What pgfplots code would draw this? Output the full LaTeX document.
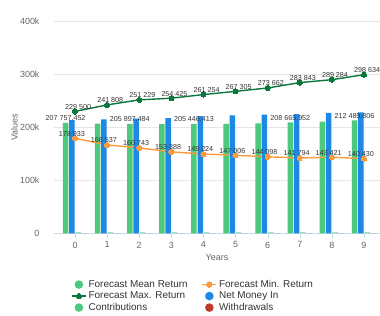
\documentclass[border=0pt]{standalone}
\usepackage{pgfplots}
\pgfplotsset{compat=1.18}
\usepackage{fontspec}
\setmainfont{Liberation Sans}
\definecolor{meangreen}{HTML}{4CC97C}
\definecolor{netblue}{HTML}{1E88E5}
\definecolor{maxgreen}{HTML}{08783C}
\definecolor{minorange}{HTML}{FF9A3C}
\definecolor{wdred}{HTML}{C0392B}
\definecolor{axisblue}{HTML}{CCD6EB}
\definecolor{gridgray}{HTML}{E6E6E6}
\definecolor{ticktext}{HTML}{666666}
\definecolor{labeltext}{HTML}{333333}
\begin{document}
\begin{tikzpicture}
\path[use as bounding box] (-54bp,-82.7bp) rectangle (326bp,233.3bp);
\begin{axis}[
  at={(0,0)}, anchor=south west,
  scale only axis, width=326bp, height=212.4bp,
  ybar=0.8bp, bar width=5.5bp,
  xmin=-0.654, xmax=9.5, ymin=0, ymax=400000,
  xtick={0,...,9},
  ytick={0,100000,200000,300000,400000},
  yticklabels={0,100k,200k,300k,400k},
  scaled y ticks=false,
  axis x line*=bottom, axis y line*=left,
  y axis line style={draw=none},
  x axis line style={draw=axisblue,-},
  tick align=outside, major tick length=5bp,
  xtick style={draw=axisblue},
  ytick style={draw=none},
  ymajorgrids, grid style={draw=gridgray},
  /pgf/number format/assume math mode=true,
  ticklabel style={font=\fontsize{9}{10}\selectfont, text=ticktext},
  yticklabel style={xshift=-6bp},
  xlabel={Years}, ylabel={Values},
  label style={font=\fontsize{9}{10}\selectfont, text=ticktext},
  xlabel style={at={(rel axis cs:0.5,0)}, anchor=center, yshift=-24.2bp},
  ylabel style={at={(rel axis cs:0,0.5)}, anchor=center, yshift=39.5bp},
  clip=false,
  legend columns=2,
  legend cell align=left,
  legend style={at={(0.0521,-0.2105)}, anchor=north west, draw=none, fill=none,
    font=\fontsize{10}{11}\selectfont, text=labeltext, inner sep=0pt,
    row sep=-1bp,
    /tikz/every even column/.append style={column sep=12bp}},
  every node near coord/.append style={font=\fontsize{7.2}{8}\selectfont, text=labeltext, anchor=south, inner sep=1bp, yshift=1bp},
]
% Forecast Mean Return
\addplot[fill=meangreen, draw=none, nodes near coords, point meta=explicit symbolic,
  legend image code/.code={\fill[meangreen] (7bp,0bp) circle (4.3bp);}]
coordinates {(0,207757.452) [207 757.452] (1,206700) [] (2,205897.484) [205 897.484]
 (3,205500) [] (4,205446.413) [205 446.413] (5,206200) [] (6,207200) []
 (7,208665.952) [208 665.952] (8,210500) [] (9,212489.806) [212 489.806]};
\addlegendentry{Forecast Mean Return}
% Forecast Min. Return
\addplot[sharp plot, color=minorange, line width=1.4bp, mark=*, mark size=2.6bp,
  mark options={fill=minorange, draw=minorange, line width=0pt},
  nodes near coords, point meta=explicit symbolic,
  legend image code/.code={\draw[minorange, line width=1.4bp, mark=*, mark size=2.6bp, mark repeat=2, mark phase=2] plot coordinates {(0bp,0bp) (7bp,0bp) (14bp,0bp)};}]
coordinates {(0,178933) [178 933] (1,166537) [166 537] (2,160743) [160 743] (3,153388) [153 388]
 (4,149224) [149 224] (5,147006) [147 006] (6,144098) [144 098] (7,141794) [141 794]
 (8,143421) [143 421] (9,140430) [140 430]};
\addlegendentry{Forecast Min. Return}
% Forecast Max. Return
\addplot[sharp plot, color=maxgreen, line width=1.4bp, mark=*, mark size=2.6bp,
  mark options={fill=maxgreen, draw=maxgreen, line width=0pt},
  nodes near coords, point meta=explicit symbolic,
  legend image code/.code={\draw[maxgreen, line width=1.4bp, mark=*, mark size=2.6bp, mark repeat=2, mark phase=2] plot coordinates {(0bp,0bp) (7bp,0bp) (14bp,0bp)};}]
coordinates {(0,229500) [229 500] (1,241808) [241 808] (2,251229) [251 229] (3,254425) [254 425]
 (4,261254) [261 254] (5,267305) [267 305] (6,273662) [273 662] (7,283843) [283 843]
 (8,289284) [289 284] (9,298634) [298 634]};
\addlegendentry{Forecast Max. Return}
% Net Money In
\addplot[fill=netblue, draw=none,
  legend image code/.code={\fill[netblue] (7bp,0bp) circle (4.3bp);}]
coordinates {(0,213000) (1,214500) (2,216000) (3,217000) (4,220500) (5,222000)
 (6,223500) (7,224500) (8,227000) (9,227500)};
\addlegendentry{Net Money In}
% Contributions
\addplot[fill=meangreen!55, draw=none,
  legend image code/.code={\fill[meangreen] (7bp,0bp) circle (4.3bp);}]
coordinates {(0,2500) (1,2500) (2,2500) (3,2500) (4,2500) (5,2500) (6,2500) (7,2500) (8,2500) (9,2500)};
\addlegendentry{Contributions}
% Withdrawals
\addplot[fill=wdred, draw=none,
  legend image code/.code={\fill[wdred] (7bp,0bp) circle (4.3bp);}]
coordinates {(0,0) (1,0) (2,0) (3,0) (4,0) (5,0) (6,0) (7,0) (8,0) (9,0)};
\addlegendentry{Withdrawals}
\end{axis}
\end{tikzpicture}
\end{document}
